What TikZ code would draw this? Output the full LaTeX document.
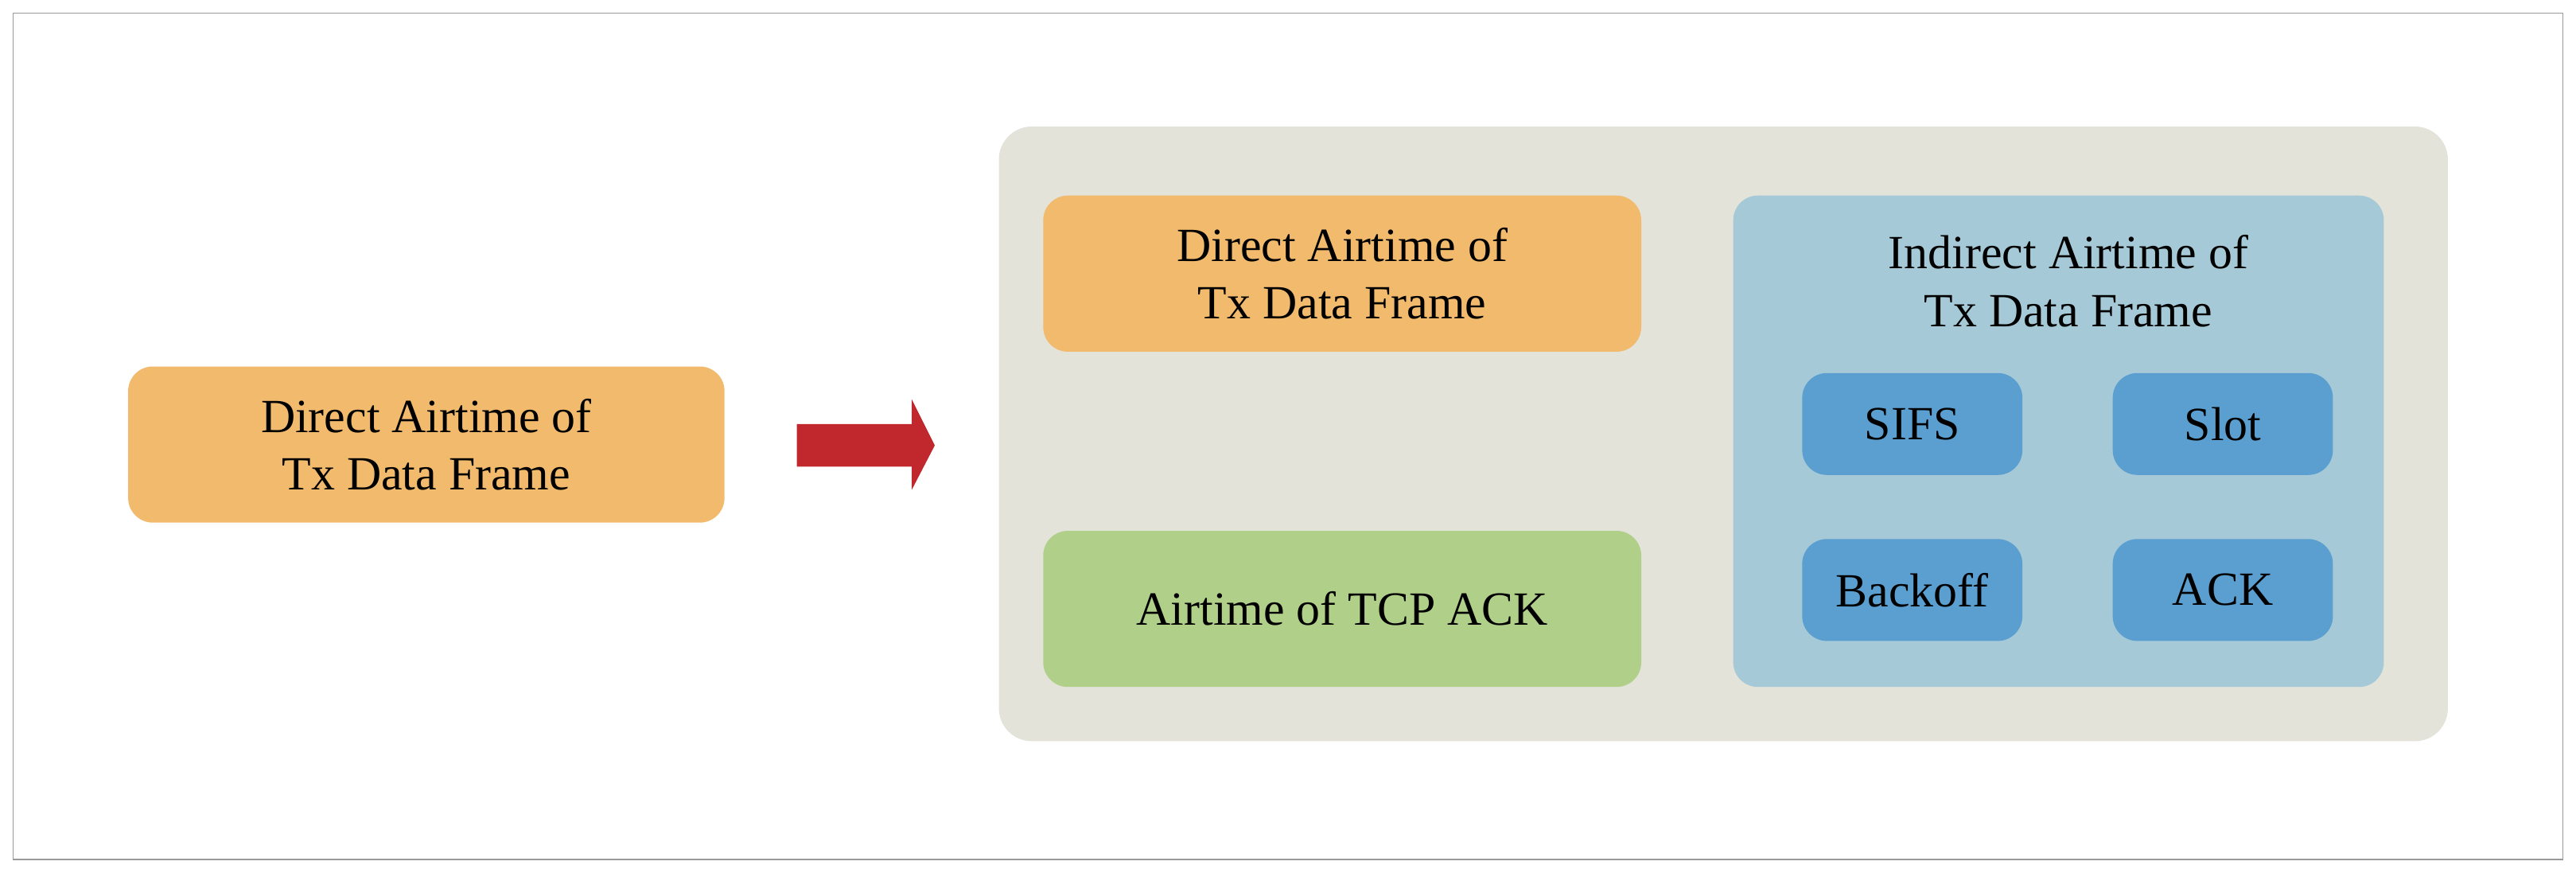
\documentclass[tikz,border=0pt]{standalone}
\usepackage{fontspec}
\setmainfont{Liberation Serif}
\begin{document}
\begin{tikzpicture}[x=0.02cm,y=-0.02cm,
  box/.style={rounded corners=0.3cm,draw=none,align=center,font=\fontsize{16.5}{20}\selectfont,inner sep=0pt},
  lbl/.style={align=center,font=\fontsize{16.5}{20}\selectfont}]
\definecolor{org}{HTML}{F2BA6C}
\definecolor{grn}{HTML}{B0D08A}
\definecolor{gry}{HTML}{E3E3DA}
\definecolor{pan}{HTML}{A5C9D6}
\definecolor{sbl}{HTML}{5B9FD0}
\definecolor{arr}{HTML}{C0282D}
\useasboundingbox (0,0) rectangle (1568,531);
\draw[gray!80,line width=0.4pt] (8,8) rectangle (1560,523);
\fill[org,rounded corners=0.3cm] (78,223) rectangle (441,318);
\node[lbl] (left) at (259.5,270.5) {Direct Airtime of\\Tx Data Frame};
\fill[arr] (485,258) -- (555,258) -- (555,243) -- (569,271) -- (555,298) -- (555,284) -- (485,284) -- cycle;
\coordinate (arrow) at (527,271);
\fill[gry,rounded corners=0.4cm] (608,77) rectangle (1490,451);
\fill[org,rounded corners=0.3cm] (635,119) rectangle (999,214);
\node[lbl] (direct) at (817,166.5) {Direct Airtime of\\Tx Data Frame};
\fill[grn,rounded corners=0.3cm] (635,323) rectangle (999,418);
\node[lbl] (tcp) at (817,370.5) {Airtime of TCP ACK};
\fill[pan,rounded corners=0.3cm] (1055,119) rectangle (1451,418);
\node[lbl] (ind) at (1259,171) {Indirect Airtime of\\Tx Data Frame};
\foreach \n/\t/\x/\y in {sifs/SIFS/1097/227, slot/Slot/1286/227, back/Backoff/1097/328, ack/ACK/1286/328}{
  \fill[sbl,rounded corners=0.3cm] (\x,\y) rectangle ++(134,62);
  \node[lbl] (\n) at (\x+67,\y+31) {\t};
}
\end{tikzpicture}
\end{document}
